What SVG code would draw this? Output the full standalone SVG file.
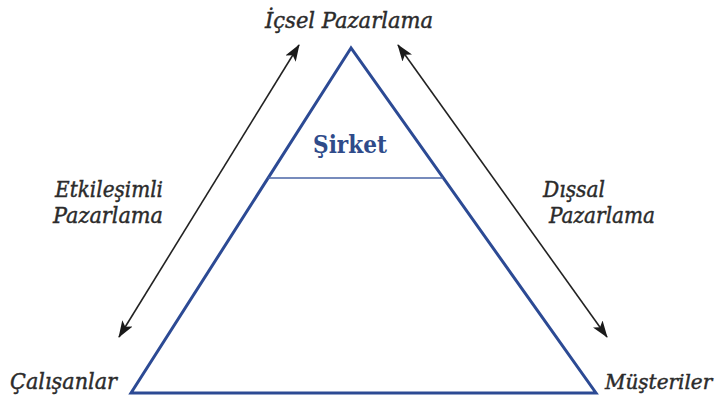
<svg xmlns="http://www.w3.org/2000/svg" width="717" height="403" viewBox="0 0 717 403">
<style>
.lbl{font-family:"DejaVu Serif","Liberation Serif",serif;font-style:italic;font-size:23px;fill:#2b2b2b;stroke:#2b2b2b;stroke-width:0.45px}
.co{font-family:"DejaVu Serif","Liberation Serif",serif;font-weight:bold;font-size:25px;fill:#2f4b8a}
.arr{stroke:#222;stroke-width:1.6;fill:none;marker-start:url(#ah);marker-end:url(#ah)}
</style>
<defs>
<marker id="ah" viewBox="0 0 17 12" refX="16" refY="6" markerWidth="17" markerHeight="12" markerUnits="userSpaceOnUse" orient="auto-start-reverse">
<path d="M0,0 L17,6 L0,12 L4,6 Z" fill="#1a1a1a"/>
</marker>
</defs>
<rect width="717" height="403" fill="#fff"/>
<g id="triangle">
<polygon points="351,48 131,393 596,393" fill="none" stroke="#2c4a94" stroke-width="3" stroke-linejoin="miter"/>
<line x1="268" y1="178" x2="443" y2="178" stroke="#4a64a6" stroke-width="1.5"/>
<text class="co" x="350" y="153" text-anchor="middle" textLength="74" lengthAdjust="spacingAndGlyphs">Şirket</text>
</g>
<g id="connectors">
<line class="arr" x1="299" y1="45" x2="119" y2="337"/>
<line class="arr" x1="398" y1="45" x2="607" y2="337"/>
</g>
<g id="node-icsel">
<text class="lbl" x="265" y="28" textLength="168" lengthAdjust="spacingAndGlyphs">İçsel Pazarlama</text>
</g>
<g id="node-etkilesimli">
<text class="lbl" x="55" y="197" textLength="108" lengthAdjust="spacingAndGlyphs">Etkileşimli</text>
<text class="lbl" x="53" y="223" textLength="110" lengthAdjust="spacingAndGlyphs">Pazarlama</text>
</g>
<g id="node-dissal">
<text class="lbl" x="543" y="197" textLength="62" lengthAdjust="spacingAndGlyphs">Dışsal</text>
<text class="lbl" x="549" y="223" textLength="106" lengthAdjust="spacingAndGlyphs">Pazarlama</text>
</g>
<g id="node-calisanlar">
<text class="lbl" x="10" y="389" textLength="107" lengthAdjust="spacingAndGlyphs">Çalışanlar</text>
</g>
<g id="node-musteriler">
<text class="lbl" x="605" y="389" style="font-size:20px">Müşteriler</text>
</g>
</svg>
